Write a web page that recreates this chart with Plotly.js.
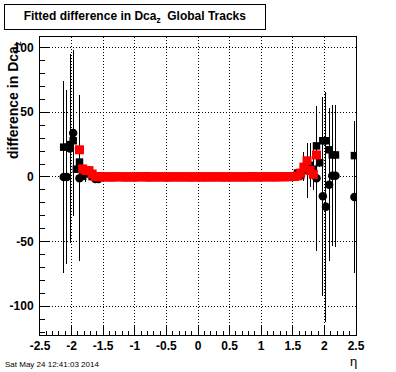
<!DOCTYPE html>
<html>
<head>
<meta charset="utf-8">
<script src="https://cdn.plot.ly/plotly-3.0.1.min.js"></script>
<style>html,body{margin:0;padding:0;background:#fff;}#chart{width:396px;height:372px;}
#chart .errorbar path{shape-rendering:crispEdges;}</style>
</head>
<body>
<div id="chart"></div>
<script>
// ---- data (bin width 0.05 in eta) ----
const binWidth = 0.05;
function centers(first, n) { return Array.from({length: n}, (_, i) => +(first + i * binWidth).toFixed(3)); }

// black squares
const squareX = centers(-2.125, 87).concat([2.475]);
const squareY = [
  23, 23, 25, 28, 6, 11.5,
  0.5, 2.3, 3.5,
  0.3, 0.3, 0.3, 0.3, 0.3, 0.3, 0.3, 0.3, 0.3, 0.3, 0.3, 0.3, 0.3, 0.3, 0.3, 0.3,
  0.8, 0.8,
  0.3, 0.3, 0.3, 0.3, 0.3, 0.3, 0.3, 0.3, 0.3, 0.3, 0.3, 0.3, 0.3, 0.3, 0.3, 0.3, 0.3,
  0.3, 0.3, 0.3, 0.3, 0.3, 0.3, 0.3, 0.3, 0.3, 0.3, 0.3, 0.3, 0.3, 0.3, 0.3, 0.3,
  0.8,
  0.3, 0.3, 0.3, 0.3, 0.3, 0.3, 0.3, 0.3, 0.3, 0.3, 0.3, 0.3, 0.3,
  3, 1, 8, 5, 9, 6,
  24, 11, 28, 28, 21, 17, 17,
  16.5
];
const squareErr = [
  3, 3, 3, 3, 3, 3,
  1.5, 6, 4.5,
  1.5, 1.5, 1.5, 1.5, 1.5, 1.5, 1.5, 1.5, 1.5, 1.5, 1.5, 1.5, 1.5, 1.5, 1.5, 1.5,
  1.5, 1.5,
  1.5, 1.5, 1.5, 1.5, 1.5, 1.5, 1.5, 1.5, 1.5, 1.5, 1.5, 1.5, 1.5, 1.5, 1.5, 1.5, 1.5,
  1.5, 1.5, 1.5, 1.5, 1.5, 1.5, 1.5, 1.5, 1.5, 1.5, 1.5, 1.5, 1.5, 1.5, 1.5, 1.5,
  1.5,
  1.5, 1.5, 1.5, 1.5, 1.5, 1.5, 1.5, 1.5, 1.5, 1.5, 1.5, 1.5, 1.5,
  1.5, 1.5, 11.5, 21, 17, 16,
  3, 3, 3, 3, 3, 3, 3,
  3
];

// black circles
const circleX   = [-2.125, -2.075, -2.025, -1.975, -1.875, -1.625, -1.575, 1.875, 1.975, 2.025, 2.075, 2.125, 2.175, 2.475];
const circleY   = [0, 0, 22, 34, -1, -1.5, -1.5, -1, -15, -23, -6, 1, 1, -15.5];
const circleErr = [74, 67, 73, 64, 64, 3, 3, 56, 77, 89, 59, 54.5, 55, 58.5];

// red squares
const redX = centers(-1.875, 76);
const redY = [
  21, 6.2, 5, 4.9, 2.3, 0.3,
  0.2, 0.1, 0, 0.1, -0.1, 0, 0.2, 0.1, 0, -0.1,
  0.1, 0, 0, 0.1, 0.2, 0, -0.1, 0, 0.1, 0,
  0, 0.1, -0.1, 0, 0.1, 0, 0, 0.1, 0, -0.1,
  0, 0.1, 0, 0, -0.1, 0.1, 0, 0, 0.1, 0,
  -0.1, 0, 0.1, 0, 0, 0.1, -0.1, 0, 0.1, 0,
  0, 0.1, 0, 0.2, 0, 0.1, 0, 0.1, 0.2, 0.1,
  0.2, 0.3, 0.4,
  0.8, 3, 7.5, 12.5, 5, 2, 17
];

const xTickVals = [-2.5, -2, -1.5, -1, -0.5, 0, 0.5, 1, 1.5, 2, 2.5];
const xTickText = ["-2.5", "-2", "-1.5", "-1", "-0.5", "0", "0.5", "1", "1.5", "2", "2.5"];
const yTickVals = [-100, -50, 0, 50, 100];
const yTickText = ["-100", "-50", "0", "50", "100"];

const titleText = "Fitted difference in Dca<sub>z</sub>&nbsp; Global Tracks";
const yTitleText = "difference in Dca<sub>z</sub>";
const xTitleText = "η";
const dateText = "Sat May 24 12:41:03 2014";

// ---- plot ----
const FONT = "Liberation Sans, Arial, Helvetica, sans-serif";
const W = 396, H = 372, L = 40, R = 40, T = 37, B = 37;
const pw = W - L - R, ph = H - T - B;
const px2x = p => (p - L) / pw;
const px2y = p => (H - B - p) / ph;

function errBar(arr) {
  return {type: 'data', array: arr, visible: true, color: 'black', thickness: 1, width: 0};
}

const traces = [
  {x: squareX, y: squareY, error_y: errBar(squareErr), type: 'scatter', mode: 'markers',
   marker: {symbol: 'square', size: 7.5, color: 'black', line: {width: 0}}, hoverinfo: 'skip'},
  {x: circleX, y: circleY, error_y: errBar(circleErr), type: 'scatter', mode: 'markers',
   marker: {symbol: 'circle', size: 8.5, color: 'black', line: {width: 0}}, hoverinfo: 'skip'},
  {x: redX, y: redY, type: 'scatter', mode: 'markers',
   marker: {symbol: 'square', size: 9, color: '#ff0000', line: {width: 0}}, hoverinfo: 'skip'}
];

const axisCommon = {
  showline: true, linecolor: 'black', linewidth: 1, mirror: true,
  ticks: 'inside', ticklen: 9, tickwidth: 1, tickcolor: 'black',
  showgrid: true, gridcolor: 'black', gridwidth: 1, griddash: '1px,2px',
  zeroline: false, tickmode: 'array',
  tickfont: {family: FONT, size: 12, color: 'black', weight: 'bold'}
};

const layout = {
  width: W, height: H,
  margin: {l: L, r: R, t: T, b: B, pad: 0},
  paper_bgcolor: 'white', plot_bgcolor: 'white',
  showlegend: false,
  xaxis: Object.assign({}, axisCommon, {
    range: [-2.5, 2.5], tickvals: xTickVals, ticktext: xTickText,
    minor: {tickmode: 'linear', tick0: 0, dtick: 0.1, ticks: 'inside', ticklen: 4.5, tickcolor: 'black', tickwidth: 1, showgrid: false}
  }),
  yaxis: Object.assign({}, axisCommon, {
    range: [-122.2, 108.2], tickvals: yTickVals, ticktext: yTickText, ticklabelstandoff: 3,
    minor: {tickmode: 'linear', tick0: 0, dtick: 10, ticks: 'inside', ticklen: 4.5, tickcolor: 'black', tickwidth: 1, showgrid: false}
  }),
  annotations: [
    {text: titleText, xref: 'paper', yref: 'paper', x: px2x(4), y: px2y(4), xanchor: 'left', yanchor: 'top',
     width: 260, height: 24, align: 'center', valign: 'middle', showarrow: false,
     bordercolor: 'black', borderwidth: 1, borderpad: 0, bgcolor: 'white',
     font: {family: FONT, size: 12, color: 'black', weight: 'bold'}},
    {text: yTitleText, xref: 'paper', yref: 'paper', x: px2x(14), y: px2y(39), xanchor: 'center', yanchor: 'top',
     textangle: -90, showarrow: false, font: {family: FONT, size: 14, color: 'black', weight: 'bold'}},
    {text: xTitleText, xref: 'paper', yref: 'paper', x: px2x(353), y: px2y(361), xanchor: 'center', yanchor: 'middle',
     showarrow: false, font: {family: FONT, size: 13, color: 'black'}},
    {text: dateText, xref: 'paper', yref: 'paper', x: px2x(3), y: px2y(364), xanchor: 'left', yanchor: 'middle',
     showarrow: false, font: {family: FONT, size: 8, color: 'black'}}
  ]
};

Plotly.newPlot('chart', traces, layout, {staticPlot: true, displayModeBar: false});
</script>
</body>
</html>
